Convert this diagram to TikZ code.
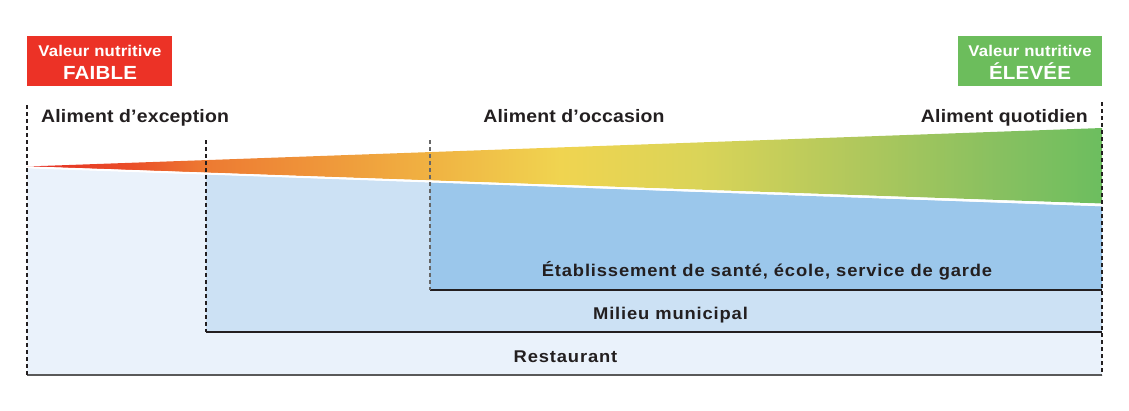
\documentclass[tikz,border=0pt]{standalone}
\usepackage{fontspec}
\setmainfont{Liberation Sans}
\newfontfamily\hdfont[FakeStretch=1.08,LetterSpace=1]{Liberation Sans}
\newfontfamily\lbfont[FakeStretch=1.08,LetterSpace=5]{Liberation Sans}
\definecolor{txt}{RGB}{35,31,32}
\definecolor{lowred}{RGB}{236,50,38}
\definecolor{highgreen}{RGB}{108,189,92}
\definecolor{bluedark}{RGB}{155,199,235}
\definecolor{bluemid}{RGB}{204,225,244}
\definecolor{bluelight}{RGB}{234,242,251}
\definecolor{gA}{RGB}{228,45,35}
\definecolor{gB}{RGB}{234,78,40}
\definecolor{gC}{RGB}{237,122,50}
\definecolor{gD}{RGB}{239,150,58}
\definecolor{gE}{RGB}{240,178,66}
\definecolor{gF}{RGB}{240,212,80}
\definecolor{gG}{RGB}{218,212,88}
\definecolor{gH}{RGB}{178,200,92}
\definecolor{gI}{RGB}{135,192,96}
\definecolor{gJ}{RGB}{108,190,95}
\pgfdeclarehorizontalshading{wedgeshade}{100bp}{color(0bp)=(gA); color(25bp)=(gA); color(29.8bp)=(gB); color(33.3bp)=(gC); color(38.6bp)=(gD); color(43.7bp)=(gE); color(49.8bp)=(gF); color(56.3bp)=(gG); color(63.3bp)=(gH); color(70.3bp)=(gI); color(75bp)=(gJ); color(100bp)=(gJ)}
\tikzset{
  heading/.style={inner sep=0pt, text=txt, font=\hdfont\bfseries\fontsize{18}{20}\selectfont},
  zonelabel/.style={inner sep=0pt, anchor=base, text=txt, font=\lbfont\bfseries\fontsize{17}{20}\selectfont},
  valuebox/.style={minimum width=145pt, minimum height=50pt, inner sep=0pt},
  boxsmall/.style={inner sep=0pt, anchor=base, text=white, font=\hdfont\bfseries\fontsize{15.5}{18}\selectfont},
  boxbig/.style={inner sep=0pt, anchor=base, text=white, font=\hdfont\bfseries\fontsize{19}{22}\selectfont},
  edgedash/.style={draw=txt, line width=1.2pt, dash pattern=on 4pt off 3pt},
  edgesolid/.style={draw=txt, line width=1.3pt},
}
\begin{document}
\begin{tikzpicture}[x=1pt,y=-1pt]
\useasboundingbox (0,0) rectangle (1129,410);
% key coordinates
\coordinate (wl) at (27,166.5);
\coordinate (wt) at (1102,128);
\coordinate (wb) at (1102,203.5);
\coordinate (b0) at (27,168);
\coordinate (b1) at (206,174.4);
\coordinate (b2) at (430,182.4);
\coordinate (br) at (1102,206.5);
% zones
\fill[bluelight] (b0) -- (br) -- (1102,375) -- (27,375) -- cycle;
\fill[bluemid] (b1) -- (br) -- (1102,332) -- (206,332) -- cycle;
\fill[bluedark] (b2) -- (br) -- (1102,290) -- (430,290) -- cycle;
% wedge
\shade[shading=wedgeshade] (wl) -- (wt) -- (wb) -- cycle;
\draw[white, line width=2pt] (27,167.3) -- (1102,205);
% edges
\draw[edgesolid] (430,290) -- (1102,290);
\draw[edgesolid] (206,332) -- (1102,332);
\draw[edgesolid, draw=black!65] (27,375) -- (1102,375);
\draw[edgedash] (27,105) -- (27,375);
\draw[edgedash] (206,140) -- (206,332);
\draw[edgedash, draw=black!60] (430,140) -- (430,290);
\draw[edgedash] (1102,102) -- (1102,375);
% value boxes
\node[valuebox, fill=lowred] (low) at (99.5,61) {};
\node[boxsmall] (lowa) at (100,56) {Valeur nutritive};
\node[boxbig] (lowb) at (100,79.3) {FAIBLE};
\node[valuebox, fill=highgreen, minimum width=144pt] (high) at (1030,61) {};
\node[boxsmall] (higha) at (1030,56) {Valeur nutritive};
\node[boxbig] (highb) at (1030,79.3) {ÉLEVÉE};
% headings
\node[heading, anchor=base west] (exc) at (41,122.5) {Aliment d’exception};
\node[heading, anchor=base] (occ) at (574,122.5) {Aliment d’occasion};
\node[heading, anchor=base east] (quo) at (1088,122.5) {Aliment quotidien};
% zone labels
\node[zonelabel] (etab) at (767,276.5) {Établissement de santé, école, service de garde};
\node[zonelabel] (mun) at (670.5,319.5) {Milieu municipal};
\node[zonelabel] (rest) at (565.5,362) {Restaurant};
\end{tikzpicture}
\end{document}
